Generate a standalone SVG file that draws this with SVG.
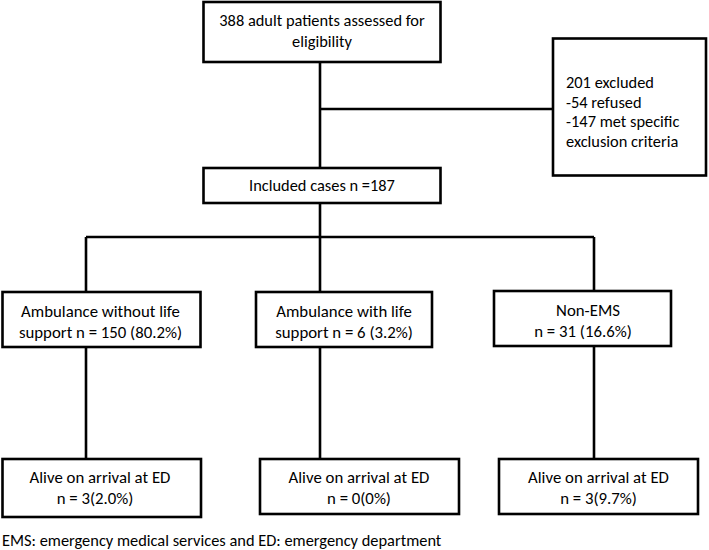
<svg xmlns="http://www.w3.org/2000/svg" width="709" height="550" viewBox="0 0 709 550">
<style>
.box{fill:#fff;stroke:#000;stroke-width:2.6}
.ln{fill:none;stroke:#000;stroke-width:2.6}
text{font-family:"Carlito","Liberation Sans",Arial,sans-serif;font-size:16.4px;fill:#000}
.c{text-anchor:middle}
.b{font-size:16.8px}
</style>
<rect width="709" height="550" fill="#fff"/>
<g id="connectors">
<path class="ln" d="M320,62 V168"/>
<path class="ln" d="M320,109 H553"/>
<path class="ln" d="M320,203 V292"/>
<path class="ln" d="M86,237 H594"/>
<path class="ln" d="M86,237 V292"/>
<path class="ln" d="M594,237 V291"/>
<path class="ln" d="M86,347 V459"/>
<path class="ln" d="M320,347 V459"/>
<path class="ln" d="M594,346 V459"/>
</g>
<g id="assessed">
<rect class="box" x="203.5" y="2" width="237" height="60"/>
<text class="c" x="322" y="25.5">388 adult patients assessed for</text>
<text class="c" x="322" y="47">eligibility</text>
</g>
<g id="excluded">
<rect class="box" x="553" y="38.5" width="153" height="137"/>
<text x="566" y="87.5">201 excluded</text>
<text x="566" y="107.5">-54 refused</text>
<text x="566" y="127">-147 met specific</text>
<text x="566" y="147">exclusion criteria</text>
</g>
<g id="included">
<rect class="box" x="203.5" y="168" width="237" height="35"/>
<text class="c" x="322" y="191">Included cases n =187</text>
</g>
<g id="amb-without">
<rect class="box" x="2.5" y="292" width="198" height="55"/>
<text class="c b" x="100.5" y="316.5">Ambulance without life</text>
<text class="c b" x="100.5" y="337.5">support n = 150 (80.2%)</text>
</g>
<g id="amb-with">
<rect class="box" x="256" y="292" width="176" height="55"/>
<text class="c b" x="344" y="316.5">Ambulance with life</text>
<text class="c b" x="344" y="337.5">support n = 6 (3.2%)</text>
</g>
<g id="non-ems">
<rect class="box" x="494" y="291" width="177" height="55"/>
<text class="c b" x="588" y="315.5">Non-EMS</text>
<text class="c b" x="583" y="336.5">n = 31 (16.6%)</text>
</g>
<g id="alive-1">
<rect class="box" x="2.5" y="459" width="198.5" height="58"/>
<text class="c b" x="100" y="483">Alive on arrival at ED</text>
<text class="c b" x="95" y="503.5">n = 3(2.0%)</text>
</g>
<g id="alive-2">
<rect class="box" x="260" y="459" width="199" height="55"/>
<text class="c b" x="359" y="483">Alive on arrival at ED</text>
<text class="c b" x="359" y="503.5">n = 0(0%)</text>
</g>
<g id="alive-3">
<rect class="box" x="499" y="459" width="199" height="55"/>
<text class="c b" x="598.5" y="483">Alive on arrival at ED</text>
<text class="c b" x="598.5" y="503.5">n = 3(9.7%)</text>
</g>
<text x="2" y="546">EMS: emergency medical services and ED: emergency department</text>
</svg>
